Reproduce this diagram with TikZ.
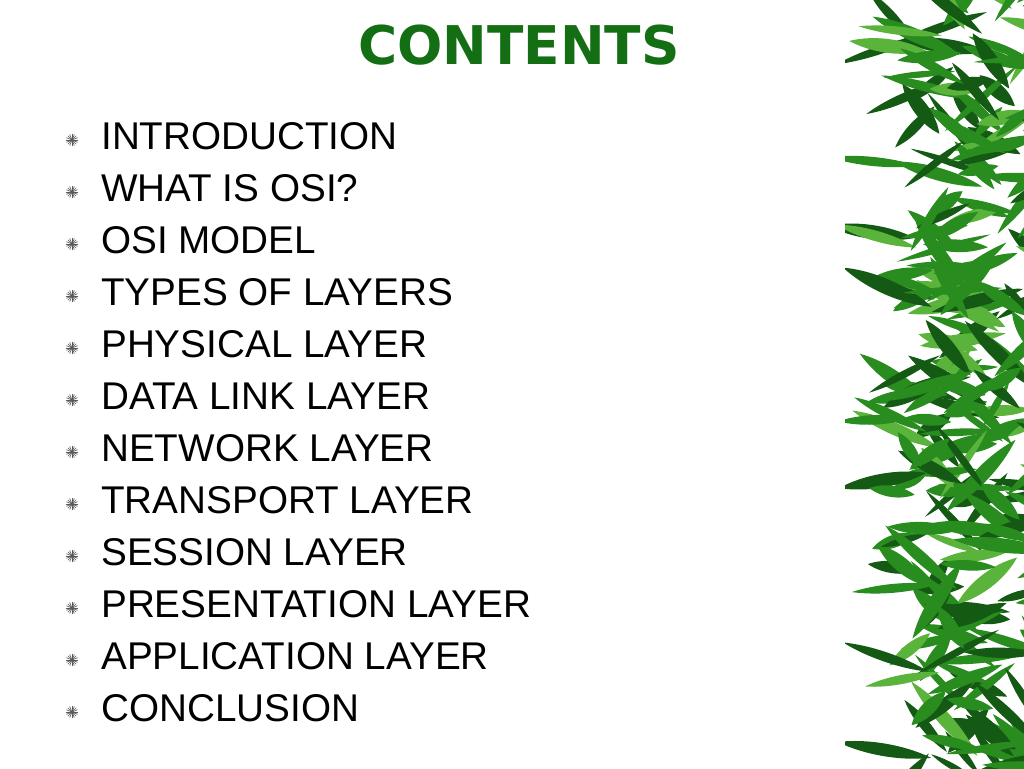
\documentclass[tikz,border=0pt]{standalone}
\usepackage{fontspec}
\setmainfont{Liberation Sans}
\newfontfamily\titlefont{DejaVu Sans}
\usetikzlibrary{calc}
\definecolor{titlegreen}{RGB}{20,110,20}
\definecolor{leafA}{RGB}{40,140,30}
\definecolor{leafB}{RGB}{20,90,20}
\definecolor{leafC}{RGB}{90,180,60}
\begin{document}
\begin{tikzpicture}[x=0.75pt,y=-0.75pt,
  item/.style={anchor=west,font=\fontsize{29}{30}\selectfont,inner sep=0pt},
  bul/.style={gray!70!black,line width=0.5pt}]
\useasboundingbox (0,0) rectangle (1024,768);
\fill[white] (0,0) rectangle (1024,768);
\node[font=\titlefont\fontsize{40}{42}\selectfont\bfseries,text=titlegreen] (title) at (519,45) {CONTENTS};
\foreach \t [count=\i] in {INTRODUCTION,WHAT IS OSI?,OSI MODEL,TYPES OF LAYERS,PHYSICAL LAYER,DATA LINK LAYER,NETWORK LAYER,TRANSPORT LAYER,SESSION LAYER,PRESENTATION LAYER,APPLICATION LAYER,CONCLUSION}{
  \pgfmathsetmacro\yy{136+52*(\i-1)}
  \node[item] (it\i) at (101,\yy) {\t};
  \coordinate (b\i) at (72,\yy+4);
  \foreach \a in {0,22.5,...,157.5}
    \draw[bul] ($(b\i)+(\a:6)$) -- ($(b\i)+(\a+180:6)$);
}
% bamboo
\pgfmathsetseed{7}
\begin{scope}
\clip (845,0) rectangle (1024,768);
\foreach \s/\c in {0/leafB,1/leafA,2/leafC,3/leafA,4/leafB,5/leafA}{
\foreach \k in {1,...,45}{
  \pgfmathsetmacro\px{910+rnd*120}
  \pgfmathsetmacro\py{rnd*780}
  \pgfmathsetmacro\ang{180+rnd*120-60+(rnd>0.5)*180}
  \pgfmathsetmacro\len{40+rnd*60}
  \pgfmathsetmacro\wid{4+rnd*6}
  \fill[\c,rotate around={\ang:(\px,\py)}] (\px,\py) .. controls (\px+\len*0.3,\py-\wid) and (\px+\len*0.7,\py-\wid) .. (\px+\len,\py) .. controls (\px+\len*0.7,\py+\wid) and (\px+\len*0.3,\py+\wid) .. (\px,\py);
}}
\end{scope}
\end{tikzpicture}
\end{document}
